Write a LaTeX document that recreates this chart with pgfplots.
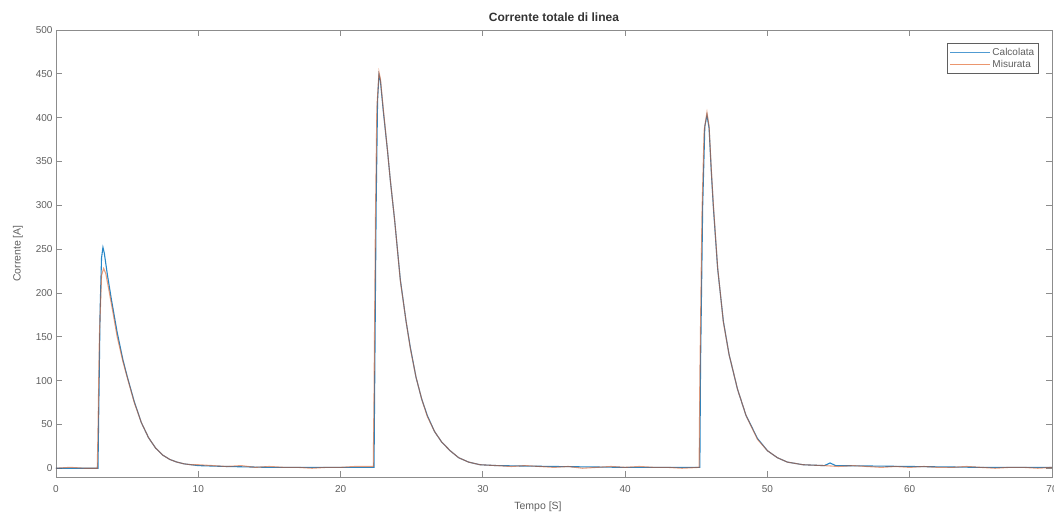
\documentclass[border=0pt]{standalone}
\usepackage{fontspec}
\setmainfont{Liberation Sans}
\usepackage{pgfplots}
\pgfplotsset{compat=1.18}
\definecolor{mblue}{RGB}{0,114,189}
\definecolor{morange}{RGB}{217,83,25}
\definecolor{lblue}{RGB}{80,155,210}
\definecolor{lorange}{RGB}{235,150,110}
\definecolor{axgray}{RGB}{140,140,140}
\definecolor{txtgray}{RGB}{95,95,95}

\begin{document}
\begin{tikzpicture}[x=1pt,y=1pt]
\useasboundingbox (-56,-38) rectangle (998,477);
\begin{axis}[
    at={(0,0)}, anchor=south west,
    scale only axis,
    width=996pt, height=447pt,
    xmin=0, xmax=70, ymin=-10, ymax=500,
    xtick={0,10,...,70}, ytick={0,50,...,500},
    tick align=inside, major tick length=6pt,
    axis line style={axgray, line width=0.8pt},
    every tick/.style={axgray, line width=0.8pt},
    tick label style={font=\fontsize{10}{12}\selectfont, text=txtgray},
    xticklabel style={yshift=-5pt},
    /pgf/number format/assume math mode=true,
    title={\textbf{Corrente totale di linea}},
    title style={font=\fontsize{12}{14}\selectfont, text=black!80, yshift=-1pt},
    xlabel={Tempo [S]}, ylabel={Corrente [A]},
    label style={font=\fontsize{10.5}{12}\selectfont, text=txtgray},
    xlabel style={yshift=-2pt, xshift=-16pt},
    ylabel style={yshift=6pt},
    legend style={at={(0.987,0.97)}, anchor=north east, draw=txtgray,
        line width=0.8pt,
        font=\fontsize{10}{11}\selectfont, inner sep=2.5pt, row sep=-1pt},
    legend cell align=left,
]
\addlegendimage{legend image code/.code={
    \draw[draw=lblue, line width=0.9pt] (0pt,0pt) -- (40pt,0pt);}}
\addlegendentry{\textcolor{txtgray}{Calcolata}}
\addlegendimage{legend image code/.code={
    \draw[draw=lorange, line width=0.9pt] (0pt,0pt) -- (40pt,0pt);}}
\addlegendentry{\textcolor{txtgray}{Misurata}}
% Calcolata
\addplot[mblue, line width=1.1pt, opacity=0.85, forget plot] coordinates {
(0,0) (2.95,0) (3.0,60) (3.1,180) (3.2,240) (3.3,252) (3.4,245) (3.6,222)
(3.9,192) (4.3,155) (4.7,124) (5.0,105) (5.5,76) (6.0,52) (6.5,35) (7.0,23)
(7.5,15) (8.0,10) (8.5,7) (9.0,5) (9.5,4) (10,3) (12,2) (15,1) (20,1)
(22.35,1) (22.4,100) (22.5,300) (22.6,420) (22.7,449) (22.8,442) (23.0,408)
(23.3,362) (23.5,328) (23.8,283) (24.2,215) (24.6,168) (24.9,138) (25.3,104)
(25.7,79) (26.1,60) (26.6,42) (27.1,30) (27.7,20) (28.3,12) (29,7) (29.8,4)
(31,3) (35,2) (40,1) (45.25,1) (45.3,120) (45.45,300) (45.6,390) (45.75,403)
(45.9,388) (46.05,340) (46.2,298) (46.5,228) (46.9,168) (47.3,130) (47.9,90)
(48.5,60) (49.3,34) (50,20) (50.7,12) (51.4,7) (52.5,4) (54,3) (54.4,6)
(54.8,3) (60,2) (65,1) (70,1)
};
% Misurata
\addplot[morange, line width=1.1pt, opacity=0.55, forget plot] coordinates {
(0,0) (1,1) (2,0) (2.9,0) (2.95,40) (3.05,150) (3.2,220) (3.35,228)
(3.5,222) (3.7,205) (4.0,178) (4.3,150) (4.7,122) (5.0,104) (5.5,75)
(6.0,52) (6.5,35) (7.0,23) (7.5,15) (8.0,10) (8.5,7) (9.0,5) (9.5,4) (10,4)
(11,3) (12,2) (13,3) (14,1) (15,2) (16,1) (17,1) (18,0) (19,1) (20,1) (21,2)
(22.3,2) (22.35,80) (22.45,280) (22.55,410) (22.7,452) (22.8,444) (23.0,410)
(23.3,362) (23.5,328) (23.8,283) (24.2,214) (24.6,168) (24.9,137) (25.3,104)
(25.7,79) (26.1,59) (26.6,42) (27.1,30) (27.7,20) (28.3,12) (29,7) (29.8,4)
(31,3) (32,2) (33,3) (34,2) (35,1) (36,2) (37,0) (38,1) (39,2) (40,1) (41,2)
(42,1) (43,1) (44,0) (45.2,1) (45.25,100) (45.4,290) (45.55,385) (45.75,406)
(45.9,390) (46.05,342) (46.2,300) (46.5,229) (46.9,167) (47.3,130) (47.9,90)
(48.5,60) (49.3,33) (50,20) (50.7,12) (51.4,7) (52.5,4) (54,3) (55,2) (56,3)
(57,2) (58,1) (59,2) (60,1) (61,2) (62,1) (63,1) (64,2) (65,1) (66,0) (67,1)
(68,1) (69,0) (70,1)
};
\end{axis}
\end{tikzpicture}
\end{document}
